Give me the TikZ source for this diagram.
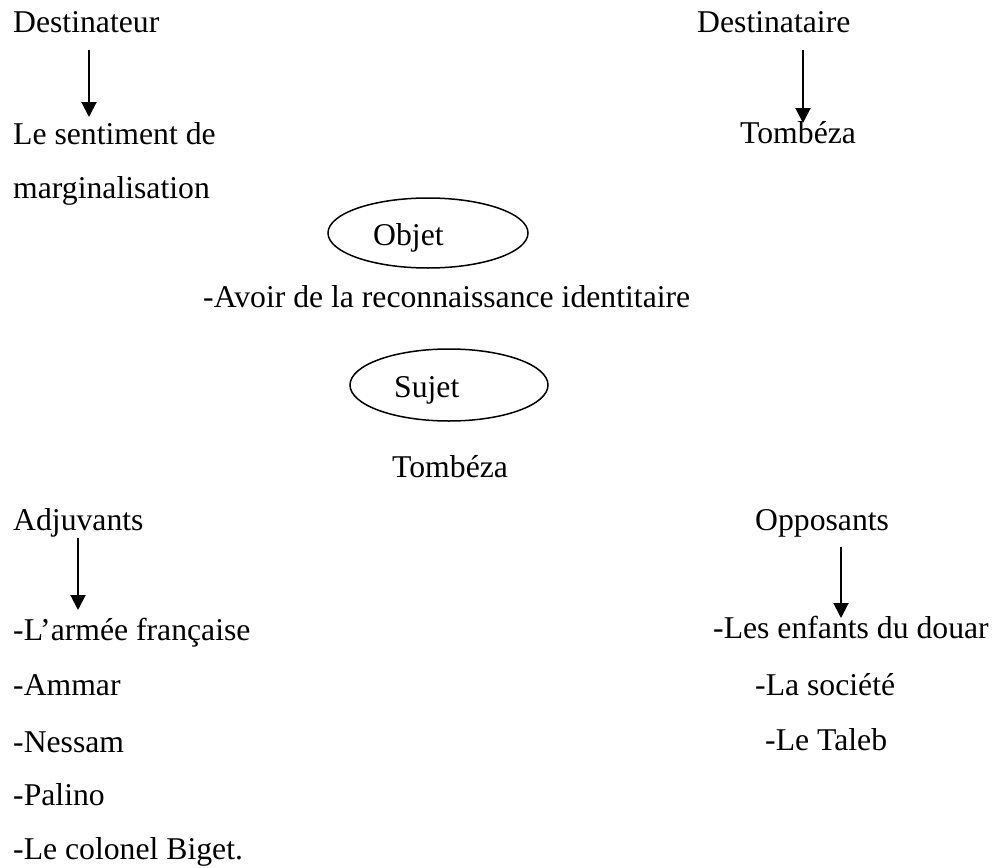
\documentclass[tikz,border=0pt]{standalone}
\usepackage{fontspec}
\setmainfont{Liberation Serif}
\usetikzlibrary{arrows.meta,shapes.geometric}
\begin{document}
\begin{tikzpicture}[x=1pt,y=-1pt,
  lbl/.style={anchor=base west,inner sep=0pt,font=\fontsize{31.7}{38}\selectfont},
  arr/.style={line width=2pt,-{Triangle[width=15pt,length=15pt]}},
  oval/.style={draw,ellipse,line width=1.5pt,inner sep=0pt,minimum width=#1,minimum height=70pt}]
\useasboundingbox (0,0) rectangle (998,867);

% sender and receiver
\node[lbl] (destinateur) at (13,33) {Destinateur};
\node[lbl] (sentiment) at (13,144) {Le sentiment de};
\node[lbl] (margin) at (13,198) {marginalisation};
\node[lbl] (destinataire) at (697,33) {Destinataire};
\node[lbl] (tombA) at (740,143) {Tombéza};

% object and subject
\node[oval=200pt] (objet) at (428,233) {};
\node[lbl] (objetT) at (373,245) {Objet};
\node[lbl] (avoir) at (203,307) {-Avoir de la reconnaissance identitaire};
\node[oval=198pt,minimum height=72pt] (sujet) at (449,385) {};
\node[lbl] (sujetT) at (394,397) {Sujet};
\node[lbl] (tombB) at (392,477) {Tombéza};

% helpers
\node[lbl] (adjuvants) at (13,530) {Adjuvants};
\node[lbl] (armee) at (13,640) {-L’armée française};
\node[lbl] (ammar) at (13,695) {-Ammar};
\node[lbl] (nessam) at (13,752) {-Nessam};
\node[lbl] (palino) at (13,805) {-Palino};
\node[lbl] (biget) at (13,859) {-Le colonel Biget.};

% opponents
\node[lbl] (opposants) at (755,530) {Opposants};
\node[lbl] (enfants) at (713,638) {-Les enfants du douar};
\node[lbl] (societe) at (755,695) {-La société};
\node[lbl] (taleb) at (765,750) {-Le Taleb};

% arrow end points
\coordinate (a1s) at (89,50);  \coordinate (a1e) at (89,117);
\coordinate (a2s) at (803,50); \coordinate (a2e) at (803,123);
\coordinate (a3s) at (78,538); \coordinate (a3e) at (78,610);
\coordinate (a4s) at (841,547); \coordinate (a4e) at (841,618);

\draw[arr] (a1s) -- (a1e);
\draw[arr] (a2s) -- (a2e);
\draw[arr] (a3s) -- (a3e);
\draw[arr] (a4s) -- (a4e);
\end{tikzpicture}
\end{document}
